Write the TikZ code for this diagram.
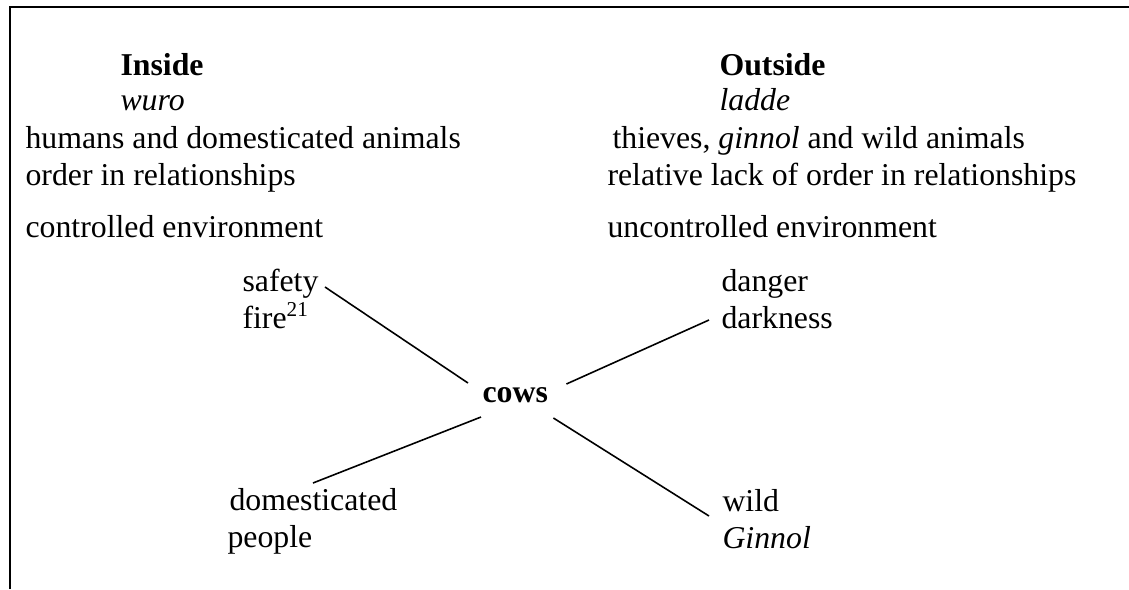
\documentclass[tikz,border=0pt]{standalone}
\usepackage{fontspec}
\setmainfont{Liberation Serif}
\usepackage{tikz}
\tikzset{
	lbl/.style={anchor=base west, inner sep=0pt, font=\fontsize{12}{14}\selectfont},
	spoke/.style={line width=0.6pt}
}

\begin{document}
\begin{tikzpicture}[x=0.3774pt, y=-0.3774pt]
			%%%%% START %%%%%
			
			\useasboundingbox (0, 0) rectangle (1129, 589);
			\draw[line width=1pt] (10, 589) -- (10, 7) -- (1129, 7);
			
			% inside
			\node[lbl] (inside) at (120, 75) {\textbf{Inside}};
			\node[lbl] (wuro) at (120, 110) {\textit{wuro}};
			\node[lbl] (humans) at (25, 148) {humans and domesticated animals};
			\node[lbl] (order) at (25, 185) {order in relationships};
			\node[lbl] (controlled) at (25, 237) {controlled environment};
			
			% outside
			\node[lbl] (outside) at (719, 75) {\textbf{Outside}};
			\node[lbl] (ladde) at (719, 110) {\textit{ladde}};
			\node[lbl] (thieves) at (612, 148) {thieves, \textit{ginnol} and wild animals};
			\node[lbl] (relative) at (607, 185) {relative lack of order in relationships};
			\node[lbl] (uncontrolled) at (607, 237) {uncontrolled environment};
			
			\node[lbl] (safety) at (242, 291) {safety};
			\node[lbl] (fire) at (242, 328) {fire\textsuperscript{21}};
			\node[lbl] (danger) at (721, 291) {danger};
			\node[lbl] (darkness) at (721, 328) {darkness};
			
			\node[lbl] (cows) at (482, 402) {\textbf{cows}};
			
			\node[lbl] (domesticated) at (229, 510) {domesticated};
			\node[lbl] (people) at (227, 547) {people};
			\node[lbl] (wild) at (722, 511) {wild};
			\node[lbl] (ginnol) at (722, 548) {\textit{Ginnol}};
			
			\draw[spoke] ([shift={(6, -4)}]safety.base east) -- ([shift={(-14, -19)}]cows.base west);
			\draw[spoke] ([shift={(18, -18)}]cows.base east) -- ([shift={(-12, -8)}]darkness.base west);
			\draw[spoke] ([shift={(-1, 15)}]cows.base west) -- ([shift={(84, -27)}]domesticated.base west);
			\draw[spoke] ([shift={(5, 16)}]cows.base east) -- ([shift={(-13, 5)}]wild.base west);
			
			%%%%% END %%%%%
\end{tikzpicture}
\end{document}
